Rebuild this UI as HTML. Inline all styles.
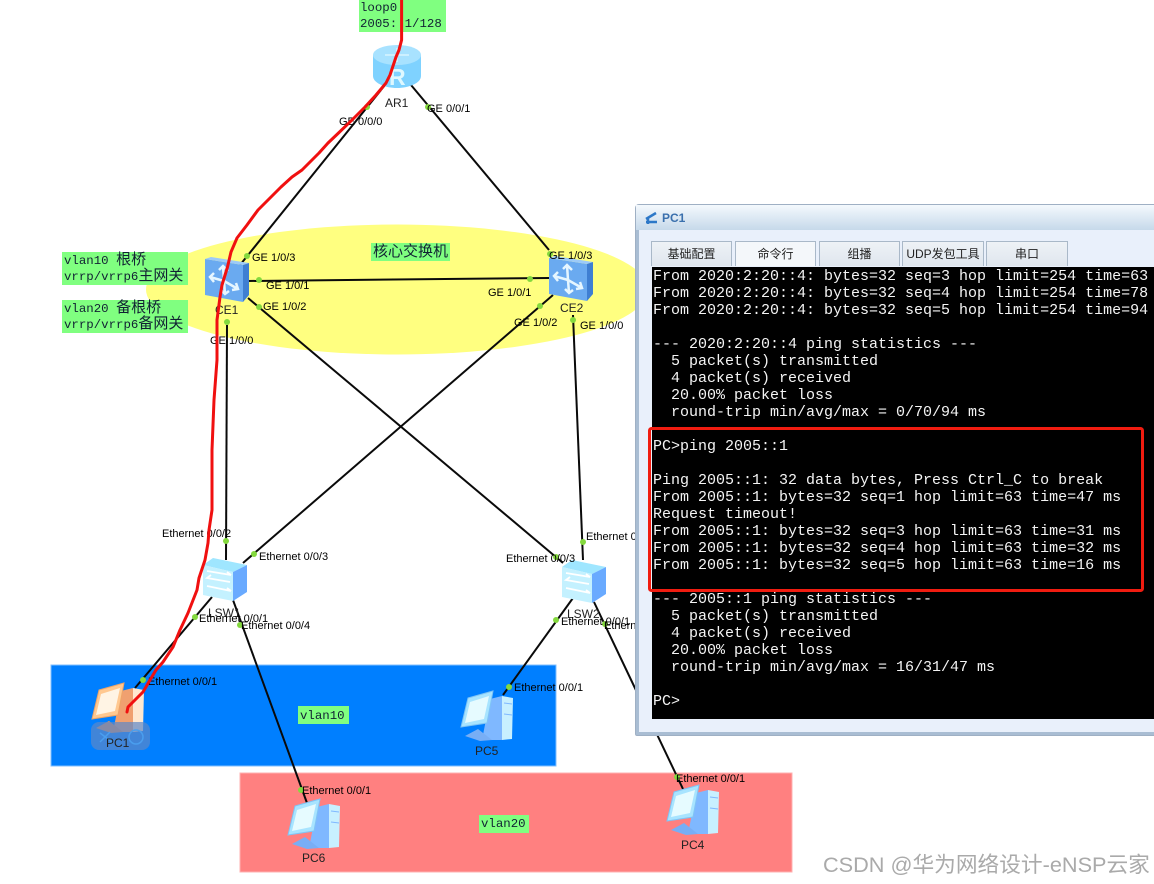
<!DOCTYPE html>
<html><head><meta charset="utf-8"><style>
html,body{margin:0;padding:0;background:#fff}
#p{position:relative;width:1154px;height:884px;overflow:hidden;background:#fff}
svg{position:absolute;left:0;top:0}
text{font-family:"Liberation Sans","Noto Sans CJK SC",sans-serif;font-size:11px;fill:#000}
.m{font-family:"Liberation Mono","Noto Sans CJK SC",monospace;font-size:12.4px;fill:#123}
.z{font-size:15px;font-family:"Noto Sans CJK SC",sans-serif}
.n{font-size:12px;fill:#222}
#w{position:absolute;left:635px;top:204px;width:530px;height:532px;box-sizing:border-box;border:1px solid #9fb0c4;border-radius:4px 0 0 2px;background:#a9bdd3}
#t{position:absolute;left:3px;top:25px;right:0;bottom:3px;background:#e9f0fb}
#h{position:absolute;left:0;top:0;right:0;height:25px;background:linear-gradient(#f4f9fd,#c6d9ea);font:bold 12px "Liberation Sans",sans-serif;color:#3a70ad}
#h span{position:absolute;left:26px;top:6px}
.b{position:absolute;top:241px;height:25px;box-sizing:border-box;border:1px solid #a9b8c8;border-bottom:0;background:linear-gradient(#eef2f6,#dfe6ee);font:12px/25px "Liberation Sans","Noto Sans CJK SC",sans-serif;color:#222;text-align:center}
#c{position:absolute;left:652px;top:267px;width:502px;height:452px;background:#000;overflow:hidden}
#c pre{margin:0;position:absolute;left:1px;top:1px;font:15px/17px "Liberation Mono",monospace;color:#f4f4f4}
</style></head><body><div id="p">
<svg width="1154" height="884" viewBox="0 0 1154 884">
<defs>
<g id="pc">
<path d="M30 8L42 5V49L22 49Z" fill="#7fb8ff"/>
<path d="M42 5L53 7L52 48L42 49Z" fill="#c8f0ff"/>
<path d="M44 12L52 13M44 23L52 24" stroke="#7fb8ff"/>
<path d="M8 7L33 0L27 32L1 36Z" fill="#a8e4ff" stroke="#7fc4f5"/>
<path d="M10 11L29 5L24 28L5 32Z" fill="#e6fbff"/>
<path d="M5 45L18 38L32 49L20 50Z" fill="#78aef5"/>
</g>
<g id="sw">
<path d="M10 0L44 7L30 14L0 7Z" fill="#9fe6ff"/>
<path d="M0 7L30 14V43L0 37Z" fill="#c4f1ff"/>
<path d="M30 14L44 7V34L30 43Z" fill="#69aaff"/>
<path d="M4 13L28 17L24 14M27 24L4 20L8 17M4 28L28 33L24 30" stroke="#fff" stroke-width="1.800" fill="none"/>
</g>
<g id="ce">
<path d="M0 2L38 8V45L0 38Z" fill="#6aaaf0"/>
<path d="M0 2L6 0L44 6L38 8Z" fill="#9ccaf8"/>
<path d="M38 8L44 6V38L38 45Z" fill="#3f7fd2"/>
<g stroke="#e6f6ff" stroke-width="2.500" fill="none">
<path d="M19 24L18 9M14 13L18 9L23 14"/>
<path d="M19 24L5 20M9 16L5 20L9 25"/>
<path d="M19 24L33 32M27 33L33 32L31 26"/>
<path d="M19 24L20 37M16 33L20 37L24 34"/>
</g>
</g>
</defs>
<ellipse cx="397" cy="289.5" rx="251" ry="65" fill="#ffff80"/>
<rect x="51" y="665" width="505" height="101" fill="#007fff" stroke="#80bfff"/>
<rect x="240" y="773" width="552" height="99" fill="#ff8080" stroke="#ffb0b0"/>

<g stroke="#0a0a0a" stroke-width="2" fill="none">
<path d="M385 85L240 265"/><path d="M411 85L549 250"/>
<path d="M248 281L550 278"/>
<path d="M248 298L563 563"/><path d="M553 295L243 563"/>
<path d="M227 325L226 560"/><path d="M573 315L583 560"/>
<path d="M212 597L135 688"/><path d="M233 600L307 803"/>
<path d="M573 598L503 695"/><path d="M594 602L683 789"/>
</g>

<g fill="#84d93e">
<circle cx="367" cy="107" r="3"/><circle cx="428" cy="107" r="3"/>
<circle cx="247" cy="256" r="3"/><circle cx="259" cy="280" r="3"/><circle cx="259" cy="307" r="3"/><circle cx="227" cy="322" r="3"/>
<circle cx="550" cy="254" r="3"/><circle cx="530" cy="279" r="3"/><circle cx="540" cy="306" r="3"/><circle cx="573" cy="320" r="3"/>
<circle cx="226" cy="541" r="3"/><circle cx="254" cy="554" r="3"/><circle cx="195" cy="617" r="3"/><circle cx="240" cy="625" r="3"/>
<circle cx="143" cy="680" r="3"/><circle cx="301" cy="790" r="3"/>
<circle cx="583" cy="542" r="3"/><circle cx="556" cy="557" r="3"/><circle cx="556" cy="620" r="3"/><circle cx="605" cy="624" r="3"/>
<circle cx="509" cy="687" r="3"/><circle cx="677" cy="777" r="3"/>
</g>

<!-- Router -->
<path d="M373 55V76C373 83 385 88 397 88S421 83 421 76V55Z" fill="#7fd2ff"/>
<ellipse cx="397" cy="55" rx="24" ry="10" fill="#a8e2ff"/>
<text x="389" y="85" style="font-size:23px;fill:#dff8ff;font-weight:bold">R</text>
<path d="M385 55H409M397 48V62" stroke="#d8f4ff" stroke-width="1.500"/>

<use href="#ce" x="205" y="257"/><use href="#ce" x="549" y="256"/>
<use href="#sw" x="203" y="558"/><use href="#sw" x="562" y="560"/>
<use href="#pc" x="460" y="691"/><use href="#pc" x="287" y="799"/><use href="#pc" x="666" y="785"/>

<!-- PC1 orange -->
<path d="M121 691L133 688V732L113 732Z" fill="#f0a070"/>
<path d="M133 688L144 690L143 731L133 732Z" fill="#ffe8d0"/>
<path d="M99 690L124 683L118 715L92 719Z" fill="#ffc890" stroke="#eda468"/>
<path d="M101 694L120 688L115 711L96 715Z" fill="#fff4e4"/>
<path d="M96 728L109 721L123 732L111 733Z" fill="#e89058"/>
<rect x="91" y="722" width="59" height="28" rx="8" fill="#5c88c8" fill-opacity=".7"/>
<circle cx="136" cy="737" r="7" fill="none" stroke="#4a9eee" stroke-width="1.500"/>
<path d="M100 733L112 742M100 742L110 732" stroke="#4a9eee" stroke-width="1.500"/>

<!-- Labels -->
<text x="385" y="107" class="n">AR1</text>
<text x="215" y="314" class="n">CE1</text><text x="560" y="312" class="n">CE2</text>
<text x="208" y="617" class="n">LSW1</text><text x="567" y="618" class="n">LSW2</text>
<text x="106" y="747" class="n">PC1</text><text x="475" y="755" class="n">PC5</text><text x="302" y="862" class="n">PC6</text><text x="681" y="849" class="n">PC4</text>

<text x="339" y="125">GE 0/0/0</text><text x="427" y="112">GE 0/0/1</text>
<text x="252" y="261">GE 1/0/3</text><text x="266" y="289">GE 1/0/1</text><text x="263" y="310">GE 1/0/2</text><text x="210" y="344">GE 1/0/0</text>
<text x="549" y="259">GE 1/0/3</text><text x="488" y="296">GE 1/0/1</text><text x="514" y="326">GE 1/0/2</text><text x="580" y="329">GE 1/0/0</text>
<text x="162" y="537">Ethernet 0/0/2</text><text x="259" y="560">Ethernet 0/0/3</text>
<text x="199" y="622">Ethernet 0/0/1</text><text x="241" y="629">Ethernet 0/0/4</text>
<text x="148" y="685">Ethernet 0/0/1</text><text x="302" y="794">Ethernet 0/0/1</text>
<text x="586" y="540">Ethernet 0/0/2</text><text x="506" y="562">Ethernet 0/0/3</text>
<text x="561" y="625">Ethernet 0/0/1</text><text x="604" y="629">Ethernet 0/0/4</text>
<text x="514" y="691">Ethernet 0/0/1</text><text x="676" y="782">Ethernet 0/0/1</text>

<!-- Green notes -->
<g fill="#80ff80">
<rect x="359" y="0" width="87" height="32"/>
<rect x="62" y="252" width="126" height="33"/><rect x="62" y="300" width="126" height="33"/>
<rect x="371" y="243" width="79" height="18"/>
<rect x="298" y="706" width="51" height="18"/><rect x="479" y="815" width="50" height="18"/>
</g>
<text x="360" y="11" class="m">loop0</text><text x="360" y="27" class="m">2005: 1/128</text>
<text x="64" y="264" class="m">vlan10 <tspan class="z">根桥</tspan></text><text x="64" y="280" class="m">vrrp/vrrp6<tspan class="z">主网关</tspan></text>
<text x="64" y="312" class="m">vlan20 <tspan class="z">备根桥</tspan></text><text x="64" y="328" class="m">vrrp/vrrp6<tspan class="z">备网关</tspan></text>
<text x="373" y="256" class="m z">核心交换机</text>
<text x="300" y="719" class="m">vlan10</text><text x="481" y="827" class="m">vlan20</text>

<path d="M401.600 0L401.600 40L399 50L396 57L390 75L386 83L376 95L365 107L352 120L338.500 133L328 143L319 153L302 170L292 177L281 187L268 200L258 210L247 225L237 238L231 252L227.500 267L222 285L220 297L217 320L217 360L214 400L212 450L212 510L209 530L208 543L205 560L199 578L197 590L188 613L180 630L173 647L163 662L156 670L150 680L143 692L128 707L127 712" fill="none" stroke="#f01010" stroke-width="3" stroke-linejoin="round" stroke-linecap="round"/>
</svg>

<div id="w"><div id="h"><span>PC1</span></div><div id="t"></div></div>
<svg width="1154" height="884" style="pointer-events:none"><path d="M646 219L656 213M646 222H657M648 217V224" stroke="#2c78c8" stroke-width="2.500" fill="none"/></svg>
<div class="b" style="left:651px;width:81px">基础配置</div>
<div class="b" style="left:735px;width:81px;background:#f4f7fa">命令行</div>
<div class="b" style="left:819px;width:81px">组播</div>
<div class="b" style="left:902px;width:82px">UDP发包工具</div>
<div class="b" style="left:986px;width:82px">串口</div>
<div id="c"><pre>From 2020:2:20::4: bytes=32 seq=3 hop limit=254 time=63 ms
From 2020:2:20::4: bytes=32 seq=4 hop limit=254 time=78 ms
From 2020:2:20::4: bytes=32 seq=5 hop limit=254 time=94 ms

--- 2020:2:20::4 ping statistics ---
  5 packet(s) transmitted
  4 packet(s) received
  20.00% packet loss
  round-trip min/avg/max = 0/70/94 ms

PC&gt;ping 2005::1

Ping 2005::1: 32 data bytes, Press Ctrl_C to break
From 2005::1: bytes=32 seq=1 hop limit=63 time=47 ms
Request timeout!
From 2005::1: bytes=32 seq=3 hop limit=63 time=31 ms
From 2005::1: bytes=32 seq=4 hop limit=63 time=32 ms
From 2005::1: bytes=32 seq=5 hop limit=63 time=16 ms

--- 2005::1 ping statistics ---
  5 packet(s) transmitted
  4 packet(s) received
  20.00% packet loss
  round-trip min/avg/max = 16/31/47 ms

PC&gt;</pre></div>
<svg width="1154" height="884" style="pointer-events:none">
<rect x="649.500" y="428.500" width="493" height="162" rx="2" fill="none" stroke="#f01c10" stroke-width="3"/>
<text x="823" y="872" style="font-size:21.700px;fill:#aaa">CSDN @华为网络设计-eNSP云家</text>
</svg>
</div></body></html>
